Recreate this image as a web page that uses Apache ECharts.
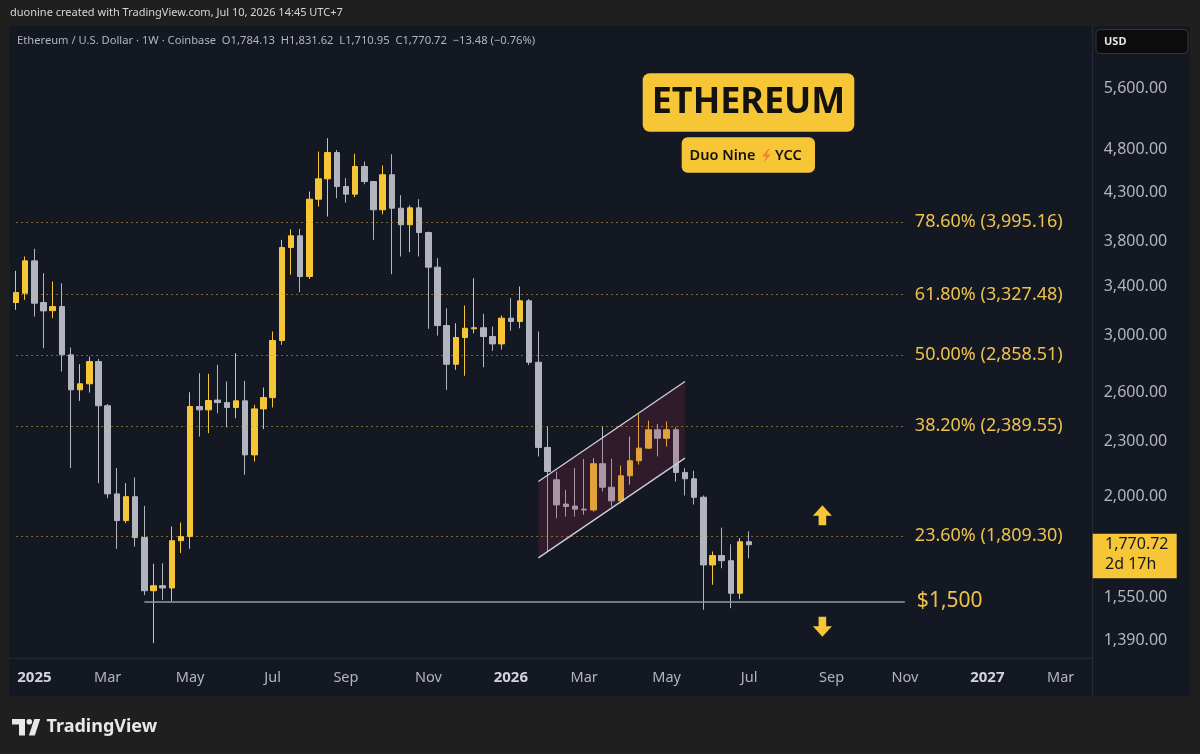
<!DOCTYPE html>
<html>
<head>
<meta charset="utf-8">
<script src="https://cdn.jsdelivr.net/npm/echarts@6/dist/echarts.min.js"></script>
<style>
html,body{margin:0;padding:0;background:#1f1f1f;}
#c{width:1200px;height:754px;}
</style>
</head>
<body>
<div id="c"></div>
<script>
// ---------- DATA ----------
const startWeek = '2024-12-23';   // first weekly candle (Monday)
const weekCount = 118;            // weeks shown on the time axis (incl. empty future)

const opens  = [3261,3338,3622,3261,3195,3228,2858,2617,2657,2810,2514,2013,1882,1999,1803,1577,1597,1588,1789,1808,
                2509,2488,2550,2534,2503,2545,2221,2494,2566,2963,3746,3858,3482,4231,4454,4759,4369,4285,4595,4424,
                4120,4500,4136,3967,4140,3890,3565,3077,2791,2986,3052,3060,2993,2938,3135,3109,3275,2805,2263,2086,
                1962,1952,1937,1933,2172,2047,1978,2107,2188,2259,2366,2316,2366,2125,2091,1996,1683,1723,1701,1567,1784.13];
const highs  = [3532,3662,3734,3511,3438,3423,2911,2791,2846,2830,2525,2148,2068,2098,1953,1688,1690,1854,1873,2601,
                2729,2725,2787,2672,2870,2677,2520,2632,3031,3819,3923,3925,4314,4771,4934,4790,4461,4744,4653,4430,
                4606,4739,4274,4165,4231,3900,3647,3214,3095,3236,3467,3169,3069,3156,3296,3395,3290,3031,2386,2130,
                2034,2148,2199,2203,2386,2199,2162,2326,2461,2421,2402,2416,2380,2148,2134,2005,1741,1849,1773,1801,1831.62];
const lows   = [3201,3283,3148,2906,3135,2740,2148,2545,2599,2068,1991,1753,1870,1763,1560,1382,1541,1537,1734,1753,
                2326,2346,2467,2380,2436,2112,2184,2370,2503,2931,3497,3347,3460,4154,4050,4242,4196,4253,4394,3819,
                4074,3502,3662,3702,3662,3052,3000,2617,2752,2711,3017,2770,2887,2897,3037,3056,2785,2212,1741,1893,
                1901,1901,1910,1925,2025,1950,1966,2060,2167,2254,2212,2268,2077,2005,1960,1503,1601,1669,1509,1544,1710.95];
const closes = [3344,3622,3255,3193,3228,2858,2617,2657,2810,2514,2013,1882,1999,1803,1577,1597,1588,1789,1808,2509,
                2488,2547,2534,2503,2545,2221,2494,2566,2963,3746,3858,3482,4231,4454,4759,4369,4285,4595,4424,4120,
                4500,4136,3967,4140,3890,3565,3077,2791,2986,3056,3060,2993,2938,3135,3109,3275,2805,2263,2130,1958,
                1950,1937,1933,2172,2047,1978,2107,2188,2259,2366,2316,2366,2125,2091,1996,1683,1723,1701,1567,1784.13,1770.72];

const yTicks = [1390,1550,2000,2300,2600,3000,3400,3800,4300,4800,5600];
const xTickDates = ['2025-01-06','2025-03-03','2025-05-05','2025-07-07','2025-09-01','2025-11-03','2026-01-05',
                    '2026-03-02','2026-05-04','2026-07-06','2026-09-07','2026-11-02','2027-01-04','2027-03-01'];
const xTickTexts = ['2025','Mar','May','Jul','Sep','Nov','2026','Mar','May','Jul','Sep','Nov','2027','Mar'];

const fibLevels = [3995.16, 3327.48, 2858.51, 2389.55, 1809.30];
const fibTexts  = ['78.60% (3,995.16)','61.80% (3,327.48)','50.00% (2,858.51)','38.20% (2,389.55)','23.60% (1,809.30)'];
const fibStartIdx = 0, fibEndIdx = 97;
const supportLevel = 1535, supportText = '$1,500', supportStartIdx = 14;

const channelIdx   = [57, 73, 73, 57];
const channelPrice = [2077, 2672, 2203, 1713];

const arrowIdx   = [88, 88];
const arrowPrice = [1907, 1440];
const arrowDir   = ['up', 'down'];

const lastPrice = 1770.72;
const lastCountdown = '2d 17h';
const headerText = 'duonine created with TradingView.com, Jul 10, 2026 14:45 UTC+7';
const legendText = 'Ethereum / U.S. Dollar \u00b7 1W \u00b7 Coinbase  O1,784.13  H1,831.62  L1,710.95  C1,770.72  \u221213.48 (\u22120.76%)';

// ---------- BUILD ----------
const weeks = [];
const d0 = new Date(startWeek + 'T00:00:00Z').getTime();
for (let i = 0; i < weekCount; i++) weeks.push(new Date(d0 + i * 7 * 86400000).toISOString().slice(0, 10));

const ohlc = opens.map((o, i) => [o, closes[i], lows[i], highs[i]]);
const fmt2 = v => Number(v).toLocaleString('en-US', {minimumFractionDigits: 2, maximumFractionDigits: 2});

const YEL = '#F7C637', GRY = '#B2B5BE', FIBC = '#EDC24B';
const FONT = '"Noto Sans", "DejaVu Sans", sans-serif';

const upArrow = 'path://M10,0 L20,10.5 L14,10.5 L14,20 L6,20 L6,10.5 L0,10.5 Z';
const downArrow = 'path://M10,20 L20,9.5 L14,9.5 L14,0 L6,0 L6,9.5 L0,9.5 Z';

const fibLines = fibLevels.map((v, k) => [
  {coord: [fibStartIdx, v], lineStyle: {type: [2, 3], color: 'rgba(196,160,70,0.6)', width: 1},
   label: {show: true, position: 'end', distance: 10, formatter: fibTexts[k], color: FIBC, fontSize: 18, fontFamily: FONT}},
  {coord: [fibEndIdx, v]}
]);
fibLines.push([
  {coord: [supportStartIdx, supportLevel], lineStyle: {type: 'solid', color: '#9598a1', width: 1.5},
   label: {show: true, position: 'end', distance: 12, formatter: supportText, color: FIBC, fontSize: 21, fontFamily: FONT}},
  {coord: [fibEndIdx, supportLevel]}
]);

const chart = echarts.init(document.getElementById('c'), null, {renderer: 'canvas'});

const option = {
  backgroundColor: '#1f1f1f',
  animation: false,
  grid: {left: 11.5, right: 107.3, top: 27, bottom: 96, containLabel: false},
  xAxis: {
    type: 'category', data: weeks, boundaryGap: true,
    axisLine: {show: false}, axisTick: {show: false}, splitLine: {show: false},
    axisLabel: {
      interval: (i, v) => xTickDates.indexOf(v) >= 0,
      formatter: v => {
        const t = xTickTexts[xTickDates.indexOf(v)];
        return /^\d{4}$/.test(t) ? '{y|' + t + '}' : t;
      },
      color: GRY, fontSize: 14.5, fontFamily: FONT, margin: 12,
      rich: {y: {color: '#d1d4dc', fontWeight: 'bold', fontSize: 15, fontFamily: FONT}}
    }
  },
  yAxis: {
    type: 'log', logBase: 10, position: 'right', min: 1331, max: 6531,
    axisLine: {show: false}, axisTick: {show: false}, splitLine: {show: false},
    axisLabel: {customValues: yTicks, formatter: v => fmt2(v), color: GRY, fontSize: 16, fontFamily: FONT, margin: 11}
  },
  graphic: [
    {id: 'panel', type: 'rect', z: -100, silent: true, shape: {x: 9.5, y: 26, width: 1180.5, height: 670}, style: {fill: '#141823'}},
    {id: 'sepV', type: 'line', z: -90, silent: true, shape: {x1: 1092.7, y1: 26, x2: 1092.7, y2: 696}, style: {stroke: '#2a2e39', lineWidth: 1}},
    {id: 'sepH', type: 'line', z: -90, silent: true, shape: {x1: 9.5, y1: 658.3, x2: 1092.7, y2: 658.3}, style: {stroke: '#2a2e39', lineWidth: 1}},
    {id: 'hdr', type: 'text', silent: true, style: {x: 10, y: 13, text: headerText, fill: '#d6d6d6', font: '11px ' + FONT, verticalAlign: 'middle', textVerticalAlign: 'middle'}},
    {id: 'leg', type: 'text', silent: true, style: {x: 17, y: 41, text: legendText, fill: GRY, font: '11.2px ' + FONT, verticalAlign: 'middle', textVerticalAlign: 'middle'}},
    {id: 'usdBox', type: 'rect', silent: true, shape: {x: 1096, y: 29.5, width: 92, height: 24, r: 4}, style: {fill: '#0c0c0c', stroke: '#34363c', lineWidth: 1}},
    {id: 'usd', type: 'text', silent: true, style: {x: 1104, y: 41.5, text: 'USD', fill: '#e6e6e6', font: 'bold 11px ' + FONT, verticalAlign: 'middle', textVerticalAlign: 'middle'}},
    {id: 'badge1', type: 'rect', silent: true, shape: {x: 642.7, y: 73.3, width: 211.6, height: 58.4, r: 7}, style: {fill: YEL}},
    {id: 'badge1t', type: 'text', silent: true, style: {x: 748.5, y: 103, text: 'ETHEREUM', fill: '#121212', font: 'bold 36px ' + FONT, align: 'center', textAlign: 'center', verticalAlign: 'middle', textVerticalAlign: 'middle'}},
    {id: 'badge2', type: 'rect', silent: true, shape: {x: 681.7, y: 137.3, width: 133.3, height: 35.4, r: 6}, style: {fill: YEL}},
    {id: 'badge2a', type: 'text', silent: true, style: {x: 755.5, y: 155.5, text: 'Duo Nine', fill: '#121212', font: '600 14.5px ' + FONT, align: 'right', textAlign: 'right', verticalAlign: 'middle', textVerticalAlign: 'middle'}},
    {id: 'bolt', type: 'polygon', silent: true, shape: {points: [[768.5,148.8],[762,156.6],[766,156.6],[763.8,162.4],[770.6,154.4],[766.6,154.4],[769.6,148.8]]}, style: {fill: '#F2852B'}},
    {id: 'badge2b', type: 'text', silent: true, style: {x: 775, y: 155.5, text: 'YCC', fill: '#121212', font: '600 14.5px ' + FONT, verticalAlign: 'middle', textVerticalAlign: 'middle'}},
    {id: 'tvA', type: 'polygon', silent: true, shape: {points: [[12,719],[25,719],[25,735.5],[19,735.5],[19,724.5],[12,724.5]]}, style: {fill: '#e8e8e8'}},
    {id: 'tvB', type: 'circle', silent: true, shape: {cx: 29.3, cy: 721.8, r: 2.8}, style: {fill: '#e8e8e8'}},
    {id: 'tvC', type: 'polygon', silent: true, shape: {points: [[34.3,719],[40.2,719],[34.8,735.5],[28.9,735.5]]}, style: {fill: '#e8e8e8'}},
    {id: 'tvT', type: 'text', silent: true, style: {x: 46.5, y: 727, text: 'TradingView', fill: '#e8e8e8', font: 'bold 18px ' + FONT, verticalAlign: 'middle', textVerticalAlign: 'middle'}}
  ],
  series: [
    {
      type: 'candlestick', name: 'ETHUSD', data: ohlc, barWidth: 6, z: 2,
      itemStyle: {color: YEL, color0: GRY, borderColor: YEL, borderColor0: GRY, borderWidth: 1},
      markLine: {symbol: ['none', 'none'], silent: true, animation: false, data: fibLines}
    },
    {
      type: 'custom', name: 'channel', z: 4, silent: true,
      data: [[channelIdx[0], channelPrice[0]]],
      renderItem: (params, api) => {
        const p = channelIdx.map((x, k) => api.coord([x, channelPrice[k]]));
        return {type: 'group', children: [
          {type: 'polygon', shape: {points: p}, style: {fill: 'rgba(150,40,70,0.22)'}},
          {type: 'line', shape: {x1: p[0][0], y1: p[0][1], x2: p[1][0], y2: p[1][1]}, style: {stroke: '#cfd1d8', lineWidth: 1.3}},
          {type: 'line', shape: {x1: p[3][0], y1: p[3][1], x2: p[2][0], y2: p[2][1]}, style: {stroke: '#cfd1d8', lineWidth: 1.3}}
        ]};
      }
    },
    {
      type: 'scatter', name: 'arrows', z: 5, silent: true,
      data: arrowIdx.map((x, k) => ({value: [x, arrowPrice[k]], symbol: arrowDir[k] === 'up' ? upArrow : downArrow})),
      symbolSize: [19, 20],
      itemStyle: {color: YEL, opacity: 1}
    }
  ]
};

chart.setOption(option);

// current price tag on the price scale, positioned through the axis scale
const py = chart.convertToPixel({yAxisIndex: 0}, lastPrice);
chart.setOption({graphic: [
  {id: 'pbox', type: 'rect', silent: true, shape: {x: 1092.7, y: py - 11, width: 84, height: 44.4}, style: {fill: YEL}},
  {id: 'pboxT1', type: 'text', silent: true, style: {x: 1105, y: py, text: fmt2(lastPrice), fill: '#141823', font: '16px ' + FONT, verticalAlign: 'middle', textVerticalAlign: 'middle'}},
  {id: 'pboxT2', type: 'text', silent: true, style: {x: 1105, y: py + 19.5, text: lastCountdown, fill: '#141823', font: '16px ' + FONT, verticalAlign: 'middle', textVerticalAlign: 'middle'}}
]});
</script>
</body>
</html>
